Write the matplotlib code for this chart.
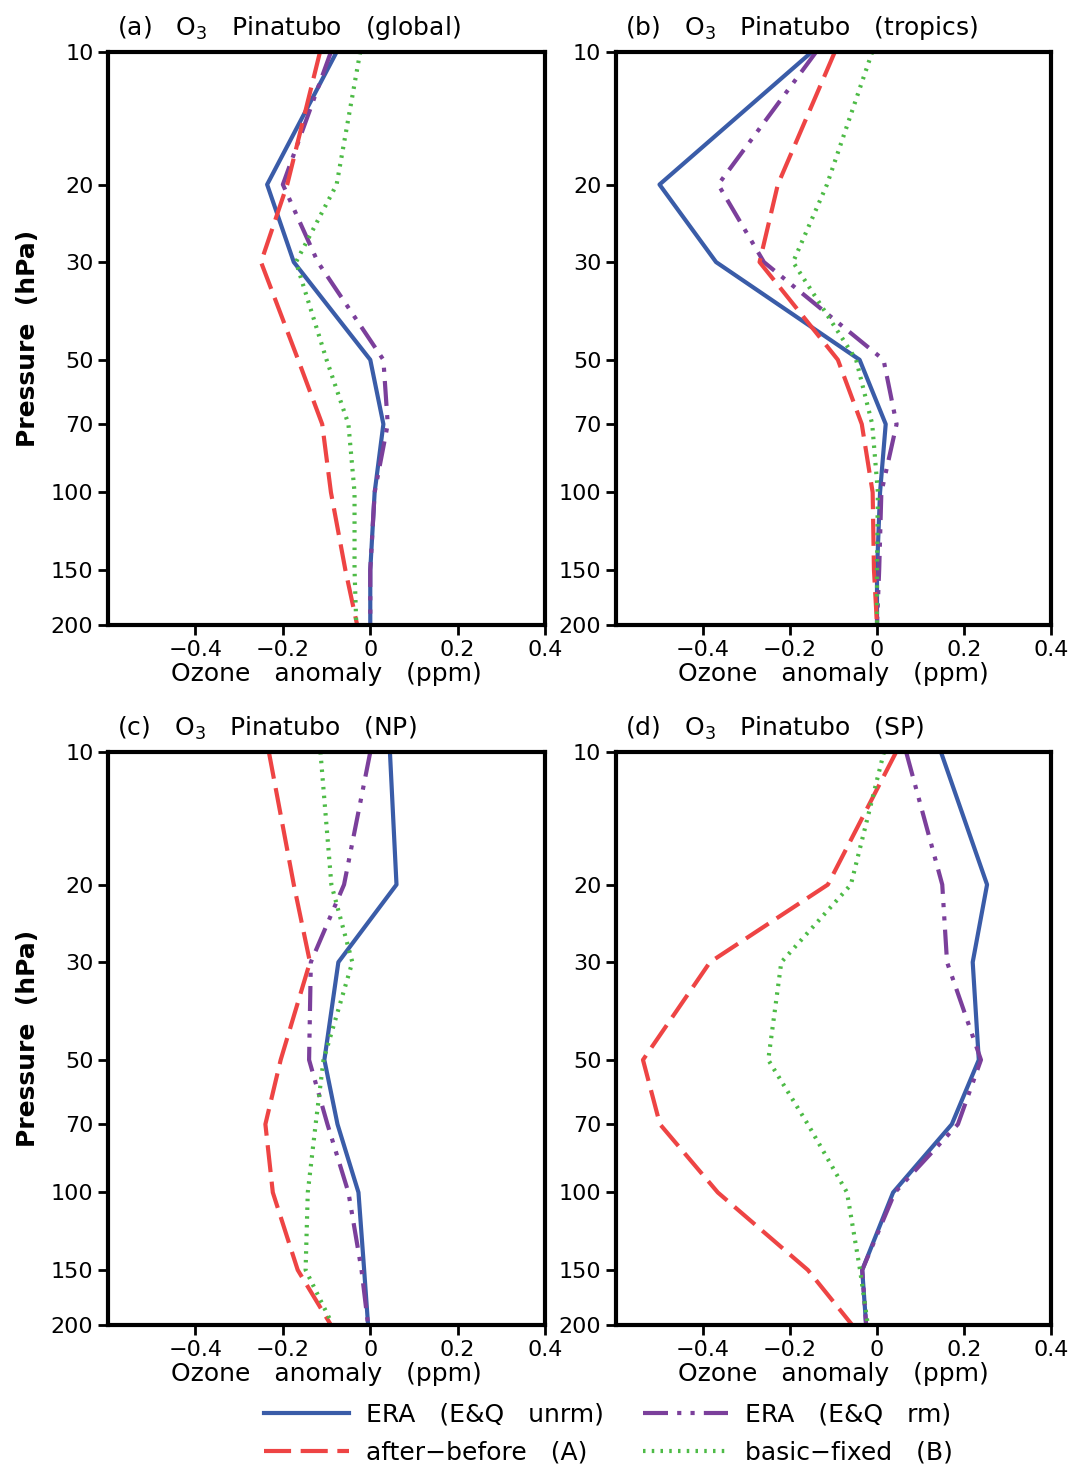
import numpy as np
import matplotlib
matplotlib.use('Agg')
import matplotlib.pyplot as plt
from matplotlib.lines import Line2D

# pressure levels (hPa)
lev = [10, 20, 30, 50, 70, 100, 150, 200]

# ozone anomalies (ppm) per panel: ERA unrm, ERA rm, after-before (A), basic-fixed (B)
glob_unrm = [-0.077, -0.236, -0.175, 0.0, 0.03, 0.01, 0.0, 0.0]
glob_rm = [-0.09, -0.2, -0.12, 0.03, 0.04, 0.01, 0.0, 0.0]
glob_a = [-0.115, -0.19, -0.25, -0.165, -0.11, -0.09, -0.057, -0.03]
glob_b = [-0.023, -0.077, -0.17, -0.1, -0.05, -0.036, -0.036, -0.032]

trop_unrm = [-0.15, -0.5, -0.37, -0.04, 0.02, 0.007, 0.0, 0.0]
trop_rm = [-0.14, -0.365, -0.26, 0.015, 0.045, 0.01, 0.005, 0.0]
trop_a = [-0.097, -0.228, -0.27, -0.09, -0.035, -0.01, -0.007, 0.0]
trop_b = [-0.011, -0.115, -0.193, -0.048, -0.011, 0.002, 0.0, 0.0]

np_unrm = [0.045, 0.06, -0.073, -0.105, -0.075, -0.027, -0.014, -0.005]
np_rm = [0.0, -0.06, -0.136, -0.14, -0.098, -0.05, -0.02, -0.005]
np_a = [-0.232, -0.175, -0.138, -0.205, -0.24, -0.223, -0.166, -0.09]
np_b = [-0.114, -0.089, -0.041, -0.107, -0.125, -0.143, -0.148, -0.086]

sp_unrm = [0.147, 0.253, 0.22, 0.234, 0.172, 0.037, -0.034, -0.025]
sp_rm = [0.067, 0.15, 0.161, 0.239, 0.186, 0.041, -0.034, -0.025]
sp_a = [0.044, -0.113, -0.384, -0.538, -0.499, -0.366, -0.159, -0.057]
sp_b = [0.016, -0.06, -0.22, -0.25, -0.159, -0.069, -0.039, -0.021]

titles = [r'(a)   O$_3$   Pinatubo   (global)', r'(b)   O$_3$   Pinatubo   (tropics)',
          r'(c)   O$_3$   Pinatubo   (NP)', r'(d)   O$_3$   Pinatubo   (SP)']
panels = [(glob_unrm, glob_rm, glob_a, glob_b), (trop_unrm, trop_rm, trop_a, trop_b),
          (np_unrm, np_rm, np_a, np_b), (sp_unrm, sp_rm, sp_a, sp_b)]

c_blue = '#3a5ca8'
c_red = '#ee4444'
c_purple = '#7b3f9b'
c_green = '#4dbb46'

ds_rm = (6, 2.2, 1, 2.2, 1, 2.2)
ds_a = (6.5, 2.3)
ds_b = (0.6, 1.5)

plt.rcParams['font.family'] = 'DejaVu Sans'

fig = plt.figure(figsize=(10.73, 14.68), dpi=100)

# axes boxes [left, bottom, width, height]
boxes = [[0.1007, 0.5743, 0.4073, 0.3903], [0.5741, 0.5743, 0.4054, 0.3903],
         [0.1007, 0.0974, 0.4073, 0.3903], [0.5741, 0.0974, 0.4054, 0.3903]]

for i, (box, title, data) in enumerate(zip(boxes, titles, panels)):
    ax = fig.add_axes(box)
    unrm, rm, a, b = data
    ax.plot(unrm, lev, color=c_blue, lw=3)
    ax.plot(rm, lev, color=c_purple, lw=3, dashes=ds_rm)
    ax.plot(a, lev, color=c_red, lw=3, dashes=ds_a)
    ax.plot(b, lev, color=c_green, lw=3, dashes=ds_b)
    ax.set_yscale('log')
    ax.set_ylim(200, 10)
    ax.set_xlim(-0.6, 0.4)
    ax.set_yticks(lev)
    ax.set_yticklabels([str(v) for v in lev])
    ax.minorticks_off()
    ax.set_xticks([-0.4, -0.2, 0, 0.2, 0.4])
    ax.set_xticklabels(['\u22120.4', '\u22120.2', '0', '0.2', '0.4'])
    ax.tick_params(direction='out', length=7, width=2, labelsize=16, top=False, right=False)
    for s in ax.spines.values():
        s.set_linewidth(3)
    ax.set_title(title, fontsize=18, loc='left', x=0.02, pad=12)
    ax.set_xlabel('Ozone   anomaly   (ppm)', fontsize=18, labelpad=2)
    if i % 2 == 0:
        ax.set_ylabel('Pressure  (hPa)', fontsize=18, fontweight='bold', labelpad=8)

handles = [Line2D([], [], color=c_blue, lw=3),
           Line2D([], [], color=c_red, lw=3, dashes=ds_a),
           Line2D([], [], color=c_purple, lw=3, dashes=ds_rm),
           Line2D([], [], color=c_green, lw=3, dashes=ds_b)]
labels = ['ERA   (E&Q   unrm)', 'after\u2212before   (A)', 'ERA   (E&Q   rm)', 'basic\u2212fixed   (B)']
fig.legend(handles, labels, ncol=2, frameon=False, fontsize=18, loc='center',
           bbox_to_anchor=(0.567, 0.0235), handlelength=3.4, handletextpad=0.65,
           columnspacing=1.6, labelspacing=0.55)

fig.savefig('out.png', dpi=100)
